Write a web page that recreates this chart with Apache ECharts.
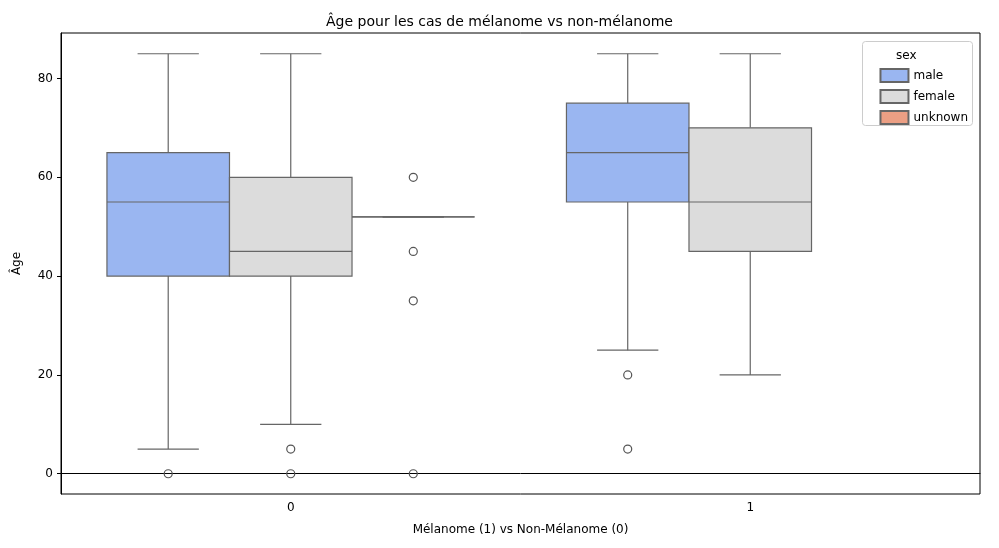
<!DOCTYPE html>
<html>
<head>
<meta charset="utf-8">
<script src="https://cdn.jsdelivr.net/npm/echarts@6/dist/echarts.min.js"></script>
<style>html,body{margin:0;padding:0;background:#fff}#main{width:999px;height:548px}</style>
</head>
<body>
<div id="main"></div>
<script>
var categories = ['0', '1'];
var hues = ['male', 'female', 'unknown'];
var hueColors = ['#9ab6f1', '#dcdcdc', '#ec9f84'];
var yTicks = [0, 20, 40, 60, 80];
// [category, low, q1, median, q3, high]
var maleBoxes = [[0, 5, 40, 55, 65, 85], [1, 25, 55, 65, 75, 85]];
var femaleBoxes = [[0, 10, 40, 45, 60, 85], [1, 20, 45, 55, 70, 85]];
var unknownBoxes = [[0, 52, 52, 52, 52, 52]];
// [category, value]
var maleOutliers = [[0, 0], [1, 20], [1, 5]];
var femaleOutliers = [[0, 5], [0, 0]];
var unknownOutliers = [[0, 60], [0, 45], [0, 35], [0, 0]];

var boxData = [maleBoxes, femaleBoxes, unknownBoxes];
var outData = [maleOutliers, femaleOutliers, unknownOutliers];

function slot(api, cat, h) {
    var band = api.size([1, 0])[0];
    var w = band * 0.8 / 3;
    var c = api.coord([cat, 0])[0];
    var x0 = c - band * 0.4 + h * w;
    return {x0: x0, w: w};
}

function boxRenderer(h) {
    return function (params, api) {
        var cat = api.value(0);
        var s = slot(api, cat, h);
        var y = function (v) { return api.coord([cat, v])[1]; };
        var lo = y(api.value(1)), q1 = y(api.value(2)), md = y(api.value(3)),
            q3 = y(api.value(4)), hi = y(api.value(5));
        var cx = s.x0 + s.w / 2;
        var ln = {stroke: '#666', lineWidth: 1.2};
        return {type: 'group', children: [
            {type: 'line', shape: {x1: cx, y1: q1, x2: cx, y2: lo}, style: ln},
            {type: 'line', shape: {x1: cx, y1: q3, x2: cx, y2: hi}, style: ln},
            {type: 'line', shape: {x1: cx - s.w / 4, y1: lo, x2: cx + s.w / 4, y2: lo}, style: ln},
            {type: 'line', shape: {x1: cx - s.w / 4, y1: hi, x2: cx + s.w / 4, y2: hi}, style: ln},
            {type: 'rect', shape: {x: s.x0, y: q3, width: s.w, height: q1 - q3},
                style: {fill: hueColors[h], stroke: '#666', lineWidth: 1.2}},
            {type: 'line', shape: {x1: s.x0, y1: md, x2: s.x0 + s.w, y2: md}, style: ln}
        ]};
    };
}

function outRenderer(h) {
    return function (params, api) {
        var cat = api.value(0);
        var s = slot(api, cat, h);
        var p = api.coord([cat, api.value(1)]);
        return {type: 'circle', shape: {cx: s.x0 + s.w / 2, cy: p[1], r: 4},
            style: {fill: 'none', stroke: '#555', lineWidth: 1.2}};
    };
}

var series = [];
hues.forEach(function (name, h) {
    series.push({name: name, type: 'custom', renderItem: boxRenderer(h), data: boxData[h],
        encode: {x: 0, y: [1, 2, 3, 4, 5]}, itemStyle: {color: hueColors[h], borderColor: '#666', borderWidth: 1}});
    series.push({name: name, type: 'custom', renderItem: outRenderer(h), data: outData[h],
        encode: {x: 0, y: 1}, itemStyle: {color: hueColors[h]}});
});

var myChart = echarts.init(document.getElementById('main'));
var option = {
    animation: false,
    textStyle: {fontFamily: 'DejaVu Sans'},
    title: {text: 'Âge pour les cas de mélanome vs non-mélanome', left: 'center', top: 10,
        textStyle: {fontSize: 14, fontWeight: 'normal', color: '#000', fontFamily: 'DejaVu Sans'}},
    grid: {left: 61, right: 19, top: 33, bottom: 54, show: true, borderColor: '#000', borderWidth: 1},
    legend: {
        data: hues, orient: 'vertical', right: 26, top: 63, itemGap: 6,
        itemWidth: 28, itemHeight: 13, icon: 'rect',
        textStyle: {fontSize: 12, color: '#000', fontFamily: 'DejaVu Sans'}
    },
    graphic: [
        {type: 'rect', right: 26, top: 41, shape: {width: 110, height: 84, r: 3},
            style: {fill: 'rgba(255,255,255,0.8)', stroke: '#ccc'}, z: -1},
        {type: 'text', left: 896, top: 50, style: {text: 'sex', fontSize: 12, fill: '#000', fontFamily: 'DejaVu Sans'}}
    ],
    xAxis: {
        type: 'category', data: categories, boundaryGap: true,
        name: 'Mélanome (1) vs Non-Mélanome (0)', nameLocation: 'middle', nameGap: 30,
        nameTextStyle: {fontSize: 12, color: '#000'},
        axisLine: {lineStyle: {color: '#000'}},
        axisTick: {alignWithLabel: true, length: 4, lineStyle: {color: '#000'}},
        axisLabel: {color: '#000', fontSize: 12, margin: 8},
        splitLine: {show: false}
    },
    yAxis: {
        type: 'value', min: -4.1, max: 89.2,
        name: 'Âge', nameLocation: 'middle', nameGap: 38,
        nameTextStyle: {fontSize: 12, color: '#000'},
        axisLine: {show: true, lineStyle: {color: '#000'}},
        axisTick: {show: true, length: 4, customValues: yTicks, lineStyle: {color: '#000'}},
        axisLabel: {color: '#000', fontSize: 12, customValues: yTicks},
        splitLine: {show: false}
    },
    series: series
};
myChart.setOption(option);
</script>
</body>
</html>
